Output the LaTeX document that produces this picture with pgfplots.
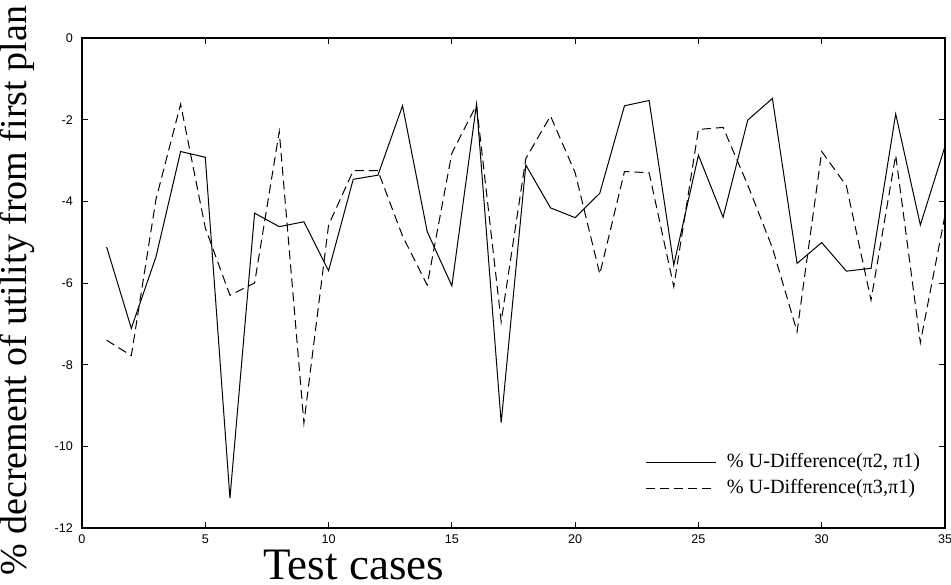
\documentclass[border=0pt]{standalone}
\usepackage{fontspec}
\setmainfont{Liberation Serif}
\newfontfamily\tickfont{Liberation Sans}
\usepackage{pgfplots}
\pgfplotsset{compat=1.18}
\begin{document}
\begin{tikzpicture}
\begin{axis}[
  scale only axis,
  width=431.5pt, height=245pt,
  xmin=0, xmax=35, ymin=-12, ymax=0,
  xtick={0,5,10,15,20,25,30,35},
  xticklabels={0,5,10,15,20,25,30,35},
  ytick={-12,-10,-8,-6,-4,-2,0},
  yticklabels={-12,-10,-8,-6,-4,-2,0},
  tick align=inside,
  major tick length=3pt,
  tick style={black, line width=0.5pt},
  ticklabel style={font=\tickfont\fontsize{6.3}{7}\selectfont},
  yticklabel style={xshift=-1pt},
  axis line style={line width=0.9pt, black},
  xlabel={Test cases},
  ylabel={\% decrement of utility from first plan},
  xlabel style={font=\fontsize{22.5}{26}\selectfont, at={(rel axis cs:0.315,0)}, anchor=base, yshift=-25.5pt},
  ylabel style={font=\fontsize{19}{23}\selectfont, at={(rel axis cs:0,0.484)}, anchor=base, yshift=27.5pt},
  legend style={at={(axis cs:22.85,-10.07)}, anchor=north west, draw=none, fill=none,
    font=\fontsize{10.1}{11.5}\selectfont, row sep=0.3pt, column sep=3pt, inner sep=0pt,
    cells={anchor=west}},
  legend image code/.code={\draw[#1] (0pt,0pt) -- (35pt,0pt);},
]
\coordinate (ll) at (rel axis cs:0,0);
\coordinate (ur) at (rel axis cs:1,1);
\addplot[black, line width=0.5pt] coordinates {
(1,-5.12) (2,-7.11) (3,-5.36) (4,-2.78) (5,-2.92) (6,-11.27) (7,-4.29) (8,-4.62)
(9,-4.50) (10,-5.70) (11,-3.46) (12,-3.36) (13,-1.66) (14,-4.74) (15,-6.07) (16,-1.62)
(17,-9.42) (18,-3.11) (19,-4.16) (20,-4.40) (21,-3.80) (22,-1.66) (23,-1.53) (24,-5.56)
(25,-2.87) (26,-4.39) (27,-2.01) (28,-1.48) (29,-5.52) (30,-5.01) (31,-5.71) (32,-5.64)
(33,-1.86) (34,-4.58) (35,-2.65)};
\addlegendentry{\% U-Difference(π2, π1)}
\addplot[black, line width=0.5pt, dash pattern=on 4.5pt off 2.5pt] coordinates {
(1,-7.40) (2,-7.78) (3,-3.95) (4,-1.62) (5,-4.65) (6,-6.30) (7,-6.00) (8,-2.29)
(9,-9.43) (10,-4.58) (11,-3.25) (12,-3.25) (13,-4.85) (14,-6.05) (15,-2.82) (16,-1.64)
(17,-6.95) (18,-2.95) (19,-1.91) (20,-3.30) (21,-5.78) (22,-3.27) (23,-3.30) (24,-6.09)
(25,-2.24) (26,-2.19) (27,-3.60) (28,-5.14) (29,-7.19) (30,-2.78) (31,-3.62) (32,-6.42)
(33,-2.87) (34,-7.46) (35,-4.34)};
\addlegendentry{\% U-Difference(π3,π1)}
\end{axis}
\pgfresetboundingbox
\path ([shift={(-41pt,-28pt)}]ll) rectangle ([shift={(3pt,19pt)}]ur);
\end{tikzpicture}
\end{document}
